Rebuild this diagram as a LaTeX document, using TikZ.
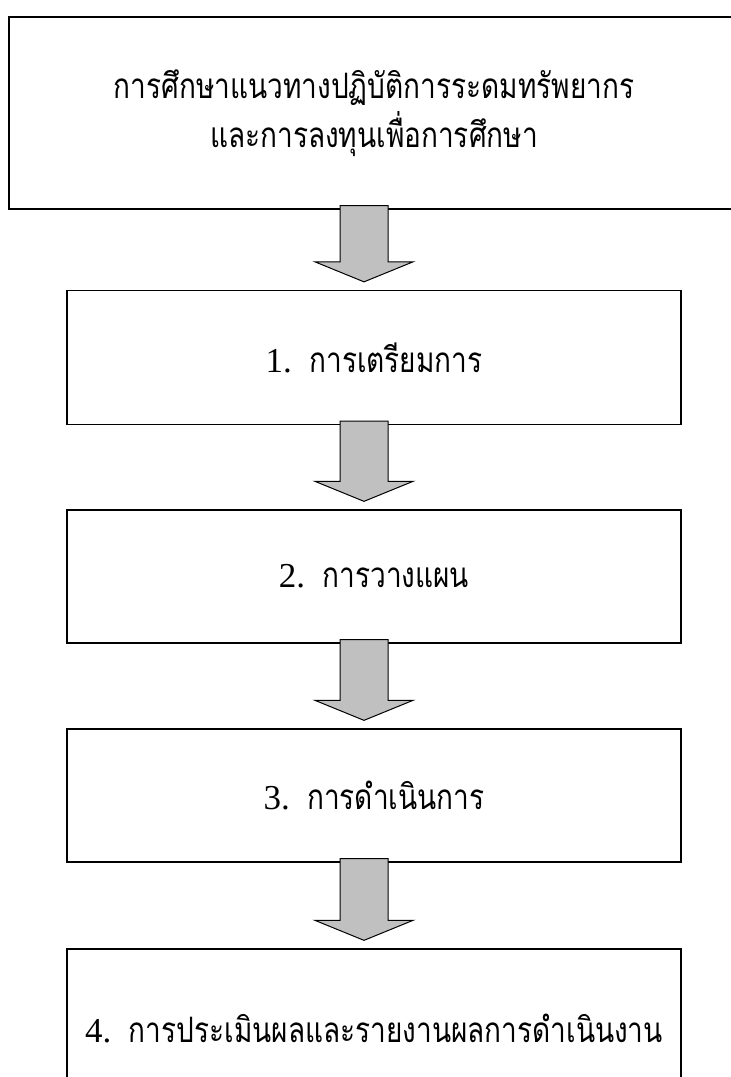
\documentclass[tikz,border=0pt]{standalone}
\usepackage{fontspec}
\setmainfont{Liberation Serif}
\newfontfamily\thaifont[Script=Thai,FakeStretch=0.8]{Loma}
\usetikzlibrary{calc}
\definecolor{arrowgray}{RGB}{192,192,192}
\tikzset{
  stepbox/.style={draw, line width=0.65pt, minimum width=307pt, minimum height=67pt,
    align=center, font=\fontsize{17.5}{24.5}\selectfont},
  blockarrow/.style={draw, fill=arrowgray, line width=0.5pt, line join=miter}
}
\newcommand{\flowarrow}[2]{%
  \draw[blockarrow] ($(#1.south)+(-34,-4)$) -- ($(#2.north)+(-34,-28)$)
    -- ($(#2.north)+(-59,-28)$) -- ($(#2.north)+(-10,-8)$)
    -- ($(#2.north)+(39,-28)$) -- ($(#2.north)+(14,-28)$)
    -- ($(#1.south)+(14,-4)$) -- cycle;}

\begin{document}
\begin{tikzpicture}[x=0.5pt,y=-0.5pt]
\useasboundingbox (0,0) rectangle (731,1077);
\node[stepbox, minimum width=365pt, minimum height=96pt] (top) at (374,113)
  {\thaifont การศึกษาแนวทางปฏิบัติการระดมทรัพยากร\\ \thaifont และการลงทุนเพื่อการศึกษา};
\node[stepbox] (s1) at (374,357.5) {1.\ \ \thaifont การเตรียมการ};
\node[stepbox, minimum height=66.5pt] (s2) at (374,576.5) {2.\ \ \thaifont การวางแผน};
\node[stepbox, minimum height=66.5pt] (s3) at (374,795.5) {3.\ \ \thaifont การดำเนินการ};
\node[stepbox, minimum height=79pt] (s4) at (374,1028) {4.\ \ \thaifont การประเมินผลและรายงานผลการดำเนินงาน};
\flowarrow{top}{s1}
\flowarrow{s1}{s2}
\flowarrow{s2}{s3}
\flowarrow{s3}{s4}
\end{tikzpicture}
\end{document}
